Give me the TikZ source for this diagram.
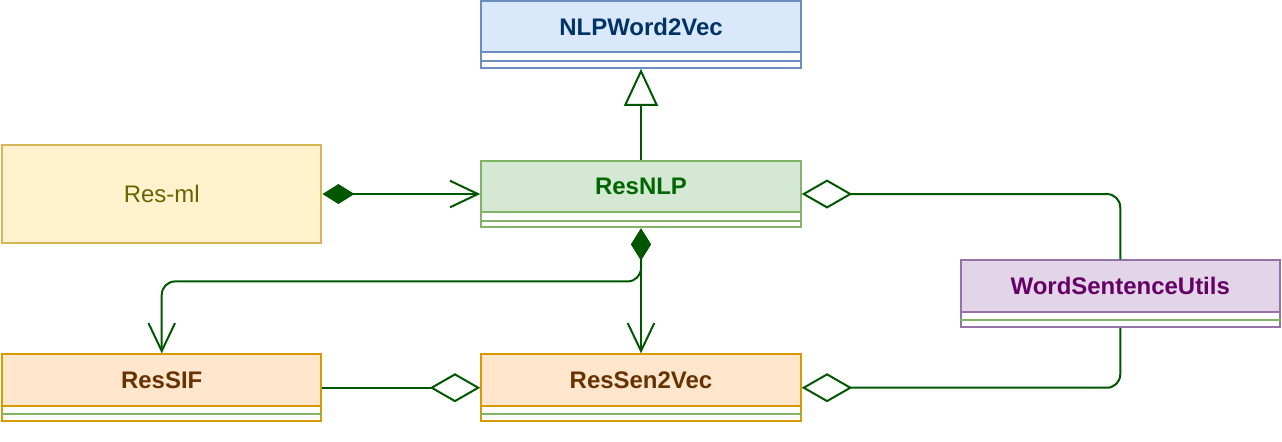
\documentclass[tikz,border=0pt]{standalone}
\usepackage{fontspec}
\setmainfont{Liberation Sans}
\usepackage{xcolor}
\usepackage{tikz}
\usetikzlibrary{arrows.meta, positioning, calc}

\definecolor{edgeGreen}{HTML}{005700}
\definecolor{blueFill}{HTML}{DAE8FC}
\definecolor{blueLine}{HTML}{6C8EBF}
\definecolor{blueText}{HTML}{003366}
\definecolor{greenFill}{HTML}{D5E8D4}
\definecolor{greenLine}{HTML}{82B366}
\definecolor{greenText}{HTML}{006600}
\definecolor{yellowFill}{HTML}{FFF2CC}
\definecolor{yellowLine}{HTML}{D6B656}
\definecolor{yellowText}{HTML}{666600}
\definecolor{orangeFill}{HTML}{FFE6CC}
\definecolor{orangeLine}{HTML}{D79B00}
\definecolor{orangeText}{HTML}{663300}
\definecolor{purpleFill}{HTML}{E1D5E7}
\definecolor{purpleLine}{HTML}{9673A6}
\definecolor{purpleText}{HTML}{660066}

\begin{document}
\begin{tikzpicture}[
    font=\fontsize{9pt}{11pt}\selectfont,
    classbox/.style={
        rectangle,
        draw,
        fill=white,
        line width=0.75pt,
        minimum width=120pt,
        minimum height=25.1pt,
        inner sep=0pt
    },
    head/.style={
        rectangle,
        draw,
        line width=0.75pt,
        minimum width=120pt,
        minimum height=19.3pt,
        inner sep=0pt,
        anchor=north,
        font=\fontsize{9pt}{11pt}\selectfont\bfseries
    },
    bluehead/.style={fill=blueFill, draw=blueLine, text=blueText},
    greenhead/.style={fill=greenFill, draw=greenLine, text=greenText},
    orangehead/.style={fill=orangeFill, draw=orangeLine, text=orangeText},
    purplehead/.style={fill=purpleFill, draw=purpleLine, text=purpleText},
    link/.style={draw=edgeGreen, line width=0.75pt, rounded corners=5pt},
    inherit/.style={link, -{Triangle[open, length=13.9pt, width=12.75pt]}},
    compose/.style={link, {Diamond[length=12pt, width=7.5pt]}-{Straight Barb[length=10.5pt, width=10pt]}},
    aggr/.style={link, -{Diamond[open, length=19pt, width=10.9pt]}},
    node distance=34.1pt and 59.25pt
]

\node[classbox, draw=blueLine] (nlpw) {};
\node[classbox, draw=greenLine, below=of nlpw] (resnlp) {};
\node[classbox, left=of resnlp, minimum height=37.1pt,
      fill=yellowFill, draw=yellowLine, text=yellowText] (resml) {Res-ml};
\node[classbox, draw=orangeLine, below=46.9pt of resnlp] (ressen) {};
\node[classbox, draw=orangeLine, left=of ressen] (ressif) {};
\node[classbox, draw=purpleLine, below right=11.6pt and 59.25pt of resnlp] (wsu) {};

% class headers and compartment lines
\foreach \cls/\title/\look/\divider in {
    nlpw/NLPWord2Vec/bluehead/blueLine,
    resnlp/ResNLP/greenhead/greenLine,
    ressif/ResSIF/orangehead/greenLine,
    ressen/ResSen2Vec/orangehead/greenLine,
    wsu/WordSentenceUtils/purplehead/greenLine} {
    \node[head, \look] (\cls-head) at (\cls.north) {\title};
    \draw[\divider, line width=0.75pt]
        ($(\cls.south west)!0.5!(\cls-head.south west)$) --
        ($(\cls.south east)!0.5!(\cls-head.south east)$);
}

\coordinate (split) at ([yshift=-19.9pt]resnlp.south);

\draw[inherit] (resnlp) -- (nlpw);
\draw[compose] (resml) -- (resnlp);
\draw[compose] (resnlp.south) -- (split) -| (ressif.north);
\draw[compose] (resnlp) -- (ressen);
\draw[aggr] (ressif) -- (ressen);
\draw[aggr] (wsu.north) |- (resnlp.east);
\draw[aggr] (wsu.south) |- (ressen.east);

\useasboundingbox ([yshift=-7.1pt]ressif.south west) rectangle (wsu.east |- nlpw.north);

\end{tikzpicture}
\end{document}
